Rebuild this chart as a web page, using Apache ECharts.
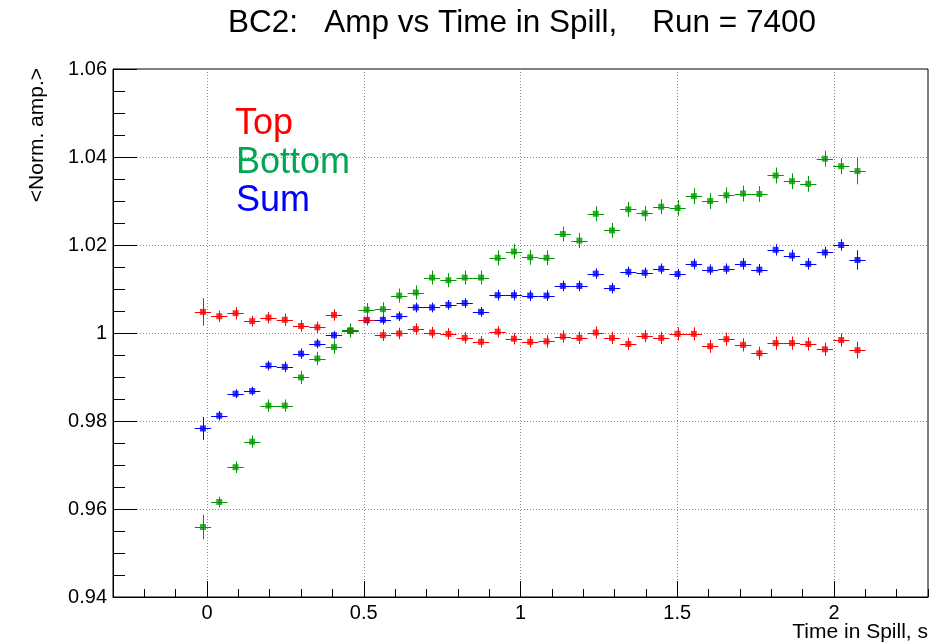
<!DOCTYPE html>
<html>
<head>
<meta charset="utf-8">
<script src="https://cdn.jsdelivr.net/npm/echarts@6/dist/echarts.min.js"></script>
<style>
  html, body { margin: 0; padding: 0; background: #ffffff; }
  #chart { width: 946px; height: 644px; }
</style>
</head>
<body>
<div id="chart"></div>
<script>
// Bin centres along the spill, in seconds
const timeInSpill = [
  -0.013, 0.039, 0.091, 0.144, 0.196, 0.248, 0.300, 0.352, 0.405, 0.457,
  0.509, 0.561, 0.613, 0.666, 0.718, 0.770, 0.822, 0.874, 0.927, 0.979,
  1.031, 1.083, 1.135, 1.188, 1.240, 1.292, 1.344, 1.396, 1.449, 1.501,
  1.553, 1.605, 1.657, 1.710, 1.762, 1.814, 1.866, 1.918, 1.971, 2.023,
  2.075
];
// Half width of a time bin (horizontal error bar)
const halfBin = 0.026;

// Normalised mean amplitude, top counter
const ampTop = [
  1.0048, 1.0038, 1.0045, 1.0027, 1.0035, 1.0030, 1.0016, 1.0013, 1.0041, 1.0005,
  1.0030, 0.9995, 0.9999, 1.0009, 1.0001, 0.9998, 0.9989, 0.9980, 1.0003, 0.9987,
  0.9980, 0.9981, 0.9992, 0.9989, 1.0001, 0.9989, 0.9975, 0.9993, 0.9989, 0.9998,
  0.9998, 0.9970, 0.9986, 0.9973, 0.9954, 0.9977, 0.9977, 0.9975, 0.9963, 0.9984,
  0.9961
];
const errTop = [
  0.0031, 0.0013, 0.0014, 0.0012, 0.0013, 0.0014, 0.0013, 0.0013, 0.0013, 0.0013,
  0.0013, 0.0013, 0.0013, 0.0013, 0.0013, 0.0013, 0.0013, 0.0013, 0.0013, 0.0013,
  0.0013, 0.0014, 0.0014, 0.0014, 0.0014, 0.0014, 0.0014, 0.0014, 0.0014, 0.0015,
  0.0015, 0.0015, 0.0015, 0.0015, 0.0015, 0.0015, 0.0015, 0.0015, 0.0015, 0.0015,
  0.0019
];

// Normalised mean amplitude, bottom counter
const ampBottom = [
  0.9559, 0.9616, 0.9695, 0.9753, 0.9835, 0.9835, 0.9899, 0.9942, 0.9968, 1.0006,
  1.0053, 1.0054, 1.0085, 1.0092, 1.0126, 1.0120, 1.0126, 1.0126, 1.0171, 1.0185,
  1.0172, 1.0171, 1.0225, 1.0210, 1.0271, 1.0233, 1.0281, 1.0272, 1.0287, 1.0284,
  1.0311, 1.0300, 1.0313, 1.0317, 1.0316, 1.0358, 1.0345, 1.0339, 1.0396, 1.0379,
  1.0368
];
const errBottom = [
  0.0028, 0.0012, 0.0013, 0.0014, 0.0014, 0.0014, 0.0015, 0.0015, 0.0015, 0.0016,
  0.0015, 0.0016, 0.0016, 0.0016, 0.0016, 0.0016, 0.0016, 0.0016, 0.0017, 0.0017,
  0.0017, 0.0017, 0.0017, 0.0017, 0.0017, 0.0017, 0.0017, 0.0017, 0.0017, 0.0018,
  0.0018, 0.0018, 0.0018, 0.0018, 0.0018, 0.0018, 0.0018, 0.0018, 0.0018, 0.0018,
  0.0030
];

// Normalised mean amplitude, sum of both counters
const ampSum = [
  0.9783, 0.9812, 0.9862, 0.9868, 0.9926, 0.9923, 0.9953, 0.9976, 0.9995, 1.0005,
  1.0029, 1.0030, 1.0038, 1.0058, 1.0058, 1.0064, 1.0068, 1.0048, 1.0086, 1.0086,
  1.0085, 1.0085, 1.0107, 1.0107, 1.0135, 1.0102, 1.0139, 1.0137, 1.0146, 1.0134,
  1.0157, 1.0144, 1.0146, 1.0157, 1.0144, 1.0189, 1.0176, 1.0157, 1.0183, 1.0200,
  1.0166
];
const errSum = [
  0.0026, 0.0011, 0.0010, 0.0010, 0.0011, 0.0012, 0.0012, 0.0011, 0.0010, 0.0011,
  0.0011, 0.0011, 0.0011, 0.0011, 0.0011, 0.0011, 0.0011, 0.0011, 0.0012, 0.0012,
  0.0012, 0.0012, 0.0012, 0.0012, 0.0012, 0.0012, 0.0012, 0.0012, 0.0012, 0.0012,
  0.0012, 0.0012, 0.0012, 0.0013, 0.0013, 0.0013, 0.0013, 0.0013, 0.0013, 0.0013,
  0.0022
];

// Time axis: one tick every 0.1 s, labelled every 0.5 s
const xTickValues = [
  '-0.3', '-0.2', '-0.1', '0', '0.1', '0.2', '0.3', '0.4', '0.5', '0.6',
  '0.7', '0.8', '0.9', '1', '1.1', '1.2', '1.3', '1.4', '1.5', '1.6',
  '1.7', '1.8', '1.9', '2', '2.1', '2.2', '2.3'
];
const xMajorLabels = ['0', '0.5', '1', '1.5', '2'];
const yTickLabels = ['0.94', '0.96', '0.98', '1', '1.02', '1.04', '1.06'];

const FONT = "'Liberation Sans', Arial, Helvetica, sans-serif";
const COL_TOP = '#ff0000';
const COL_BOTTOM = '#009a00';
const COL_SUM = '#0000ff';
const GRID_LINE = { type: [1, 2], color: '#8c8c8c', width: 1 };

function points(ys) {
  return timeInSpill.map((t, i) => [t, ys[i]]);
}
function withErrors(ys, es) {
  return timeInSpill.map((t, i) => [t, ys[i], es[i]]);
}

// Draws the vertical (statistical) and horizontal (bin width) error bars
function errorBars(color) {
  return function (params, api) {
    const t = api.value(0), y = api.value(1), e = api.value(2);
    const c = api.coord([t, y]);
    const lo = api.coord([t, y - e]);
    const hi = api.coord([t, y + e]);
    const l = api.coord([t - halfBin, y]);
    const r = api.coord([t + halfBin, y]);
    const xc = Math.round(c[0]) + 0.5;
    const yc = Math.round(c[1]) + 0.5;
    return {
      type: 'group',
      children: [
        { type: 'line', shape: { x1: xc, y1: lo[1], x2: xc, y2: hi[1] },
          style: { stroke: color, lineWidth: 1 } },
        { type: 'line', shape: { x1: l[0], y1: yc, x2: r[0], y2: yc },
          style: { stroke: color, lineWidth: 1 } }
      ]
    };
  };
}

function seriesPair(name, ys, es, color) {
  return [
    {
      name: name + ' errors',
      type: 'custom',
      xAxisIndex: 0,
      yAxisIndex: 0,
      data: withErrors(ys, es),
      encode: { x: 0, y: 1 },
      renderItem: errorBars(color),
      silent: true,
      clip: true
    },
    {
      name: name,
      type: 'scatter',
      xAxisIndex: 0,
      yAxisIndex: 0,
      data: points(ys),
      symbol: 'rect',
      symbolSize: 6,
      itemStyle: { color: color },
      silent: true
    }
  ];
}

const chart = echarts.init(document.getElementById('chart'), null, { renderer: 'canvas' });

const option = {
  animation: false,
  backgroundColor: '#ffffff',
  grid: {
    left: 113, right: 18, top: 69, bottom: 47,
    show: true, borderColor: '#000000', borderWidth: 1, backgroundColor: 'transparent'
  },
  xAxis: [
    {
      // Data axis: carries the series and the small 0.1 s ticks
      type: 'value',
      min: -0.3, max: 2.3, interval: 0.1,
      position: 'bottom',
      axisLine: { show: true, onZero: false, lineStyle: { color: '#000000', width: 1 } },
      axisTick: { show: true, inside: true, length: 8, lineStyle: { color: '#000000' } },
      axisLabel: { show: false },
      splitLine: { show: false }
    },
    {
      // Labelled 0.5 s ticks and vertical grid lines
      type: 'category',
      data: xTickValues,
      boundaryGap: false,
      position: 'bottom',
      axisLine: { show: false, onZero: false },
      axisTick: {
        show: true, inside: true, length: 16,
        interval: (i, v) => xMajorLabels.includes(v),
        lineStyle: { color: '#000000' }
      },
      axisLabel: {
        show: true,
        interval: (i, v) => xMajorLabels.includes(v),
        margin: 6,
        fontFamily: FONT, fontSize: 20, color: '#000000'
      },
      splitLine: {
        show: true,
        interval: (i, v) => xMajorLabels.includes(v),
        lineStyle: GRID_LINE
      }
    }
  ],
  yAxis: [
    {
      type: 'value',
      min: 0.94, max: 1.06, interval: 0.02,
      position: 'left',
      axisLine: { show: true, onZero: false, lineStyle: { color: '#000000', width: 1 } },
      axisTick: { show: true, inside: true, length: 24, lineStyle: { color: '#000000' } },
      minorTick: { show: true, splitNumber: 4, length: 12, lineStyle: { color: '#000000' } },
      axisLabel: {
        margin: 6,
        fontFamily: FONT, fontSize: 20, color: '#000000',
        formatter: (v) => {
          const hit = yTickLabels.find((s) => Math.abs(parseFloat(s) - v) < 1e-6);
          return hit !== undefined ? hit : '';
        }
      },
      splitLine: { show: true, showMinLine: false, showMaxLine: false, lineStyle: GRID_LINE }
    }
  ],
  graphic: [
    {
      type: 'text', x: 522, y: 23,
      style: {
        text: 'BC2:   Amp vs Time in Spill,    Run = 7400',
        font: '31.5px ' + FONT, fill: '#000000',
        textAlign: 'center', textVerticalAlign: 'middle'
      }
    },
    {
      type: 'text', x: 37, y: 68, rotation: Math.PI / 2,
      style: {
        text: '<Norm. amp.>',
        font: '21px ' + FONT, fill: '#000000',
        textAlign: 'right', textVerticalAlign: 'middle'
      }
    },
    {
      type: 'text', x: 928, y: 632,
      style: {
        text: 'Time in Spill, s',
        font: '21px ' + FONT, fill: '#000000',
        textAlign: 'right', textVerticalAlign: 'middle'
      }
    },
    {
      type: 'text', x: 235, y: 124,
      style: { text: 'Top', font: '36px ' + FONT, fill: COL_TOP,
        textAlign: 'left', textVerticalAlign: 'middle' }
    },
    {
      type: 'text', x: 236, y: 163,
      style: { text: 'Bottom', font: '36px ' + FONT, fill: '#00a651',
        textAlign: 'left', textVerticalAlign: 'middle' }
    },
    {
      type: 'text', x: 236, y: 201,
      style: { text: 'Sum', font: '36px ' + FONT, fill: COL_SUM,
        textAlign: 'left', textVerticalAlign: 'middle' }
    }
  ],
  series: [].concat(
    seriesPair('Sum', ampSum, errSum, COL_SUM),
    seriesPair('Top', ampTop, errTop, COL_TOP),
    seriesPair('Bottom', ampBottom, errBottom, COL_BOTTOM)
  )
};

chart.setOption(option);
</script>
</body>
</html>
